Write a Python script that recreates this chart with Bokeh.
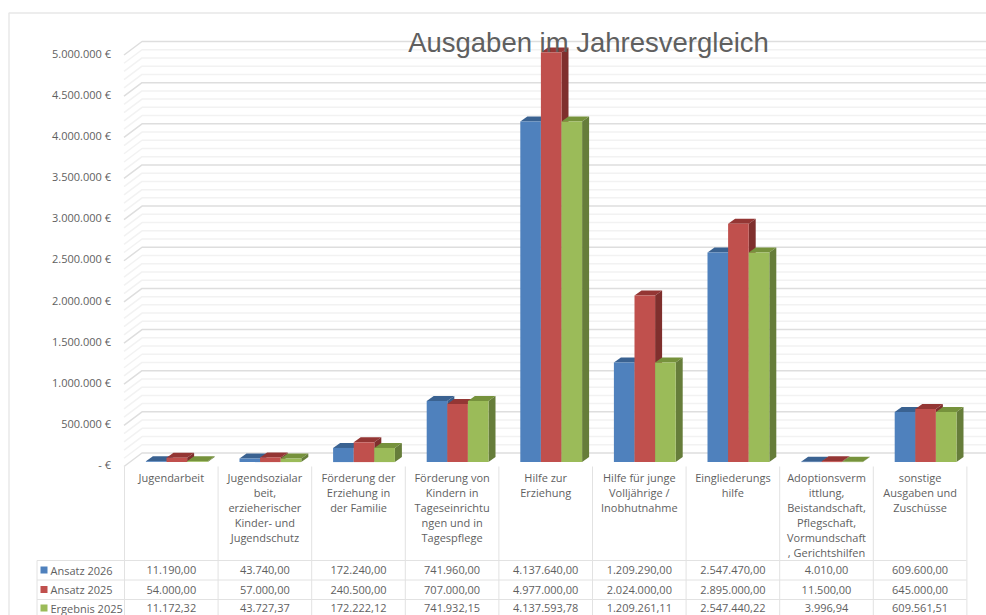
from bokeh.plotting import figure
from bokeh.embed import file_html
from bokeh.resources import INLINE
from bokeh.core.properties import value
from bokeh.models import Range1d

TITLE = "Ausgaben im Jahresvergleich"
categories = [
    "Jugendarbeit",
    "Jugendsozialar\nbeit,\nerzieherischer\nKinder- und\nJugendschutz",
    "Förderung der\nErziehung in\nder Familie",
    "Förderung von\nKindern in\nTageseinrichtu\nngen und in\nTagespflege",
    "Hilfe zur\nErziehung",
    "Hilfe für junge\nVolljährige /\nInobhutnahme",
    "Eingliederungs\nhilfe",
    "Adoptionsverm\nittlung,\nBeistandschaft,\nPflegschaft,\nVormundschaft\n, Gerichtshilfen",
    "sonstige\nAusgaben und\nZuschüsse",
]
ansatz_2026 = [11190.00, 43740.00, 172240.00, 741960.00, 4137640.00, 1209290.00, 2547470.00, 4010.00, 609600.00]
ansatz_2025 = [54000.00, 57000.00, 240500.00, 707000.00, 4977000.00, 2024000.00, 2895000.00, 11500.00, 645000.00]
ergebnis_2025 = [11172.32, 43727.37, 172222.12, 741932.15, 4137593.78, 1209261.11, 2547440.22, 3996.94, 609561.51]
series_names = ["Ansatz 2026", "Ansatz 2025", "Ergebnis 2025"]
tick_values = [0, 500000, 1000000, 1500000, 2000000, 2500000, 3000000, 3500000, 4000000, 4500000, 5000000]
tick_labels = ["- €", "500.000 €", "1.000.000 €", "1.500.000 €", "2.000.000 €", "2.500.000 €",
               "3.000.000 €", "3.500.000 €", "4.000.000 €", "4.500.000 €", "5.000.000 €"]

FRONT = ["#4F81BD", "#C0504D", "#9BBB59"]
TOP = ["#3A6291", "#943634", "#76923C"]
SIDE = ["#385D8A", "#7F2F2D", "#667D3A"]
TXT = "#5F5F5F"
FONT = value("Open Sans")

# page-pixel geometry (Bokeh's page template puts the figure at 0,0)
W, H = 986, 615
CAT_W, X0 = 93.6, 124.0          # px per category, px of first category edge
PX_PER_EUR = 82.3e-6
BASE = 466.0                     # px of value 0 on the front edge of the floor


def X(px):
    return (px - X0) / CAT_W


def Y(px):
    return (BASE - px) / PX_PER_EUR


p = figure(width=W, height=H, toolbar_location=None, output_backend="svg",
           x_range=Range1d(X(0), X(W)), y_range=Range1d(Y(H), Y(0)),
           min_border=0, outline_line_color=None)
p.axis.visible = False
p.grid.visible = False
p.background_fill_color = "white"
p.border_fill_color = "white"

# chart frame
p.multi_line([[X(8.5), X(8.5), X(990)]], [[Y(620), Y(12.5), Y(12.5)]], line_color="#E8E8E8", line_width=1.5)

# grid: back wall and left slant
wall_dx, wall_dy = 18 / CAT_W, 13.5 / PX_PER_EUR
x_edge = X(123.5)
minor = [v for v in range(0, 5000001, 100000) if v % 500000]
for vals, col, lw in ((minor, "#F2F2F2", 1.5), (tick_values, "#DEDEDE", 1.5)):
    xs = [[x_edge, x_edge + wall_dx, X(990)] for _ in vals]
    ys = [[v, v + wall_dy, v + wall_dy] for v in vals]
    p.multi_line(xs, ys, line_color=col, line_width=lw)

# bars
BAR_W = 20.6 / CAT_W
GROUP_L = 21.4 / CAT_W
FLOOR = (BASE - 461.6) / PX_PER_EUR
dx, dy = 7.0 / CAT_W, 5.0 / PX_PER_EUR
for s, vals in enumerate((ansatz_2026, ansatz_2025, ergebnis_2025)):
    l = [i + GROUP_L + s * BAR_W for i in range(len(vals))]
    r = [a + BAR_W for a in l]
    t = [v + FLOOR for v in vals]
    p.patches([[a, a + dx, b + dx, b] for a, b in zip(l, r)],
              [[h, h + dy, h + dy, h] for h in t], fill_color=TOP[s], line_color=None)
    p.patches([[b, b + dx, b + dx, b] for b in r],
              [[FLOOR, FLOOR + dy, h + dy, h] for h in t], fill_color=SIDE[s], line_color=None)
    p.quad(left=l, right=r, bottom=FLOOR, top=t, fill_color=FRONT[s], line_color=None)

# value axis labels
p.text([X(110.5)] * len(tick_values), [v + 1.8 / PX_PER_EUR for v in tick_values],
       text=tick_labels, text_align="right", text_baseline="middle",
       text_font=FONT, text_font_size="11px", text_color=TXT)

# data table
ROW_LINES = [560, 579.5, 599]
ROW_TEXT = [569.5, 589, 607.5]
TBL_TOP = 466
n = len(categories)
TBL_LINE = "#E2E2E2"
vx = [[X(124 + i * CAT_W)] * 2 for i in range(n + 1)]
vy = [[Y(TBL_TOP), Y(620)] for _ in range(n + 1)]
vx.append([X(36.5)] * 2)
vy.append([Y(ROW_LINES[0]), Y(620)])
p.multi_line(vx, vy, line_color=TBL_LINE, line_width=1)
p.multi_line([[X(36.5), X(966)] for _ in ROW_LINES], [[Y(y)] * 2 for y in ROW_LINES],
             line_color=TBL_LINE, line_width=1)

lx, ly, lt = [], [], []
for i, c in enumerate(categories):
    for j, line in enumerate(c.split("\n")):
        lx.append(i + 0.5)
        ly.append(Y(477 + j * 15))
        lt.append(line)
p.text(lx, ly, text=lt, text_align="center", text_baseline="middle",
       text_font=FONT, text_font_size="11px", text_color=TXT)


def de(v):
    return f"{v:,.2f}".replace(",", "#").replace(".", ",").replace("#", ".")


for s, vals in enumerate((ansatz_2026, ansatz_2025, ergebnis_2025)):
    y = Y(ROW_TEXT[s])
    p.text([i + 0.5 for i in range(n)], [y] * n, text=[de(v) for v in vals], text_align="center",
           text_baseline="middle", text_font=FONT, text_font_size="11px", text_color=TXT)
    p.quad(left=[X(40)], right=[X(47)], top=[Y(ROW_TEXT[s] - 3.5)], bottom=[Y(ROW_TEXT[s] + 3.5)],
           fill_color=FRONT[s], line_color=None)
    p.text([X(50)], [y], text=[series_names[s]], text_align="left", text_baseline="middle",
           text_font=FONT, text_font_size="11px", text_color=TXT)

# title
p.text([X(588)], [Y(41.5)], text=[TITLE], text_align="center", text_baseline="middle",
       text_font=value("Liberation Sans"), text_font_size="27.5px", text_color=TXT)

open("out.html", "w").write(file_html(p, INLINE))
